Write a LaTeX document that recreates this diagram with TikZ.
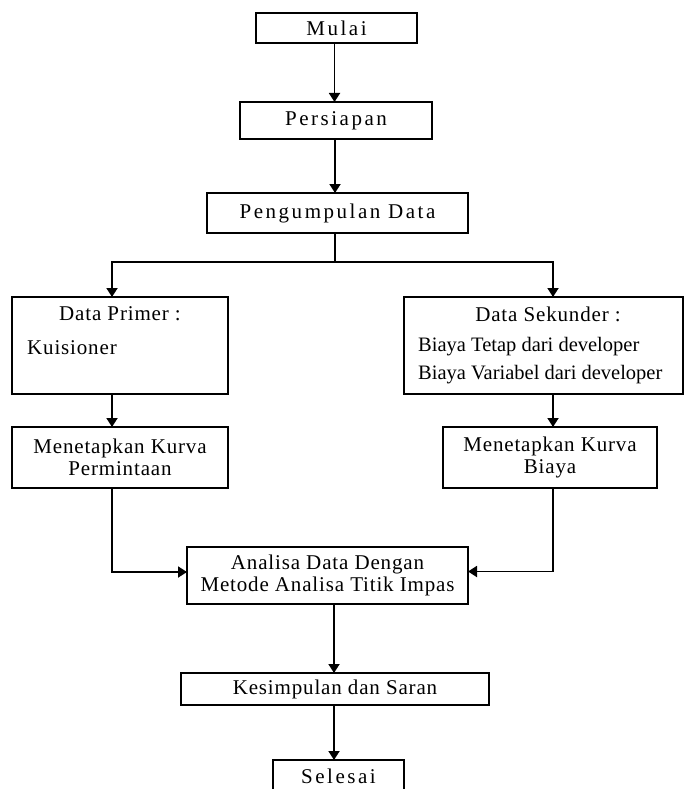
\documentclass[tikz,border=0pt]{standalone}
\usepackage{fontspec}
\setmainfont{Liberation Serif}[LetterSpace=4]
\newfontfamily\widefont{Liberation Serif}[LetterSpace=12]
\usetikzlibrary{arrows.meta}
\begin{document}
\begin{tikzpicture}[x=1pt,y=-1pt,
  box/.style={draw,line width=1.8pt,rectangle,inner sep=0pt,outer sep=0pt,
    font=\fontsize{21}{22}\selectfont,align=center},
  txt/.style={inner sep=0pt,font=\fontsize{21}{22}\selectfont},
  wtxt/.style={box,font=\fontsize{21}{22}\selectfont\widefont},
  line/.style={line width=1.8pt},
  arr/.style={line width=1.8pt,-{Triangle[width=11pt,length=9pt]}}]
\useasboundingbox (0,0) rectangle (684,789);
\node[wtxt,minimum width=161pt,minimum height=30pt] (mulai) at (336.5,28) {Mulai};
\node[wtxt,minimum width=192pt,minimum height=37pt] (persiapan) at (336,120.5) {Persiapan};
\node[wtxt,minimum width=261pt,minimum height=40pt] (kumpul) at (337.5,213) {Pengumpulan Data};
\node[box,minimum width=216pt,minimum height=97pt] (primer) at (120,345.5) {};
\node[box,minimum width=279pt,minimum height=97pt] (sekunder) at (543.5,345.5) {};
\node[txt] (tprimer) at (120,314) {Data Primer :};
\node[txt,anchor=west] (tkuis) at (27,348) {Kuisioner};
\node[txt] (tsek) at (548,314) {Data Sekunder :};
\node[txt,anchor=west,font=\fontsize{20.5}{22}\selectfont\addfontfeature{LetterSpace=0}] (ttetap) at (418,347) {Biaya Tetap dari developer};
\node[txt,anchor=west,font=\fontsize{20.5}{22}\selectfont\addfontfeature{LetterSpace=0}] (tvar) at (418,375) {Biaya Variabel dari developer};
\node[box,minimum width=216pt,minimum height=61pt] (minta) at (120,457.5) {Menetapkan Kurva\\Permintaan};
\node[box,minimum width=214pt,minimum height=61pt] (biaya) at (550,457.5) {Menetapkan Kurva\\Biaya};
\node[box,minimum width=281pt,minimum height=57pt] (analisa) at (327.5,575.5) {Analisa Data Dengan\\Metode Analisa Titik Impas};
\node[box,minimum width=308pt,minimum height=32pt] (simpul) at (335,689) {Kesimpulan dan Saran};
\node[wtxt,minimum width=131pt,minimum height=32pt] (selesai) at (338.5,776) {Selesai};
\coordinate (split) at (335,262);
\draw[arr] ([xshift=-2pt]mulai.south) -- ([xshift=-2pt]mulai.south |- persiapan.north);
\draw[arr] ([xshift=-1pt]persiapan.south) -- ([xshift=-1pt]persiapan.south |- kumpul.north);
\draw[line] ([xshift=-2.5pt]kumpul.south) -- (split);
\draw[arr] (split) -| ([xshift=-8pt]primer.north);
\draw[arr] (split) -| ([xshift=9.5pt]sekunder.north);
\draw[arr] ([xshift=-8pt]primer.south) -- ([xshift=-8pt]minta.north);
\draw[arr] ([xshift=9.5pt]sekunder.south) -- ([xshift=3pt]biaya.north);
\draw[arr] ([xshift=-8pt]minta.south) |- ([yshift=3.5pt]analisa.west);
\draw[arr] ([xshift=3pt]biaya.south) |- ([yshift=4pt]analisa.east);
\draw[arr] ([xshift=6.5pt]analisa.south) -- ([xshift=6.5pt]analisa.south |- simpul.north);
\draw[arr] ([xshift=-1pt]simpul.south) -- ([xshift=-1pt]simpul.south |- selesai.north);
\end{tikzpicture}
\end{document}
